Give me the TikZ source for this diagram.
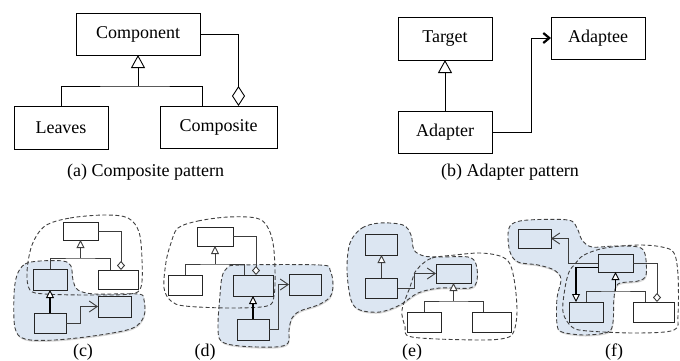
\documentclass[tikz,border=0pt]{standalone}
\usepackage{fontspec}
\setmainfont{Liberation Serif}
\usetikzlibrary{arrows.meta,calc,shadows,backgrounds}
\definecolor{blobblue}{RGB}{220,230,242}
\definecolor{linegray}{RGB}{60,60,60}

\begin{document}
\begin{tikzpicture}[x=1pt,y=-1pt,
  every node/.style={font=\fontsize{18}{21}\selectfont, inner sep=0pt, outer sep=0pt},
  % large UML classes
  classbox/.style 2 args={draw=black, line width=0.9pt, fill=white,
    minimum width=#1pt, minimum height=#2pt},
  % small classes in the overlap sketches
  wbox/.style 2 args={draw=black!85, line width=1pt, fill=white,
    minimum width=#1pt, minimum height=#2pt},
  bbox/.style 2 args={wbox={#1}{#2}, fill=blobblue},
  link/.style={draw=black, line width=0.9pt},
  slink/.style={draw=linegray, line width=0.9pt},
  heavylink/.style={draw=black, line width=1.8pt},
  inhbig/.style={-{Triangle[fill=white, length=13pt, width=14pt, line width=0.9pt]}},
  aggbig/.style={-{Diamond[fill=white, length=20pt, width=13pt, line width=0.9pt]}},
  usebig/.style={-{Straight Barb[length=6pt, width=10pt, line width=2.2pt]}},
  inhs/.style={-{Triangle[fill=white, length=8pt, width=8pt, line width=0.9pt]}},
  aggs/.style={-{Diamond[fill=white, length=9pt, width=8pt, line width=0.9pt]}},
  uses/.style={-{Straight Barb[length=8pt, width=11pt, line width=0.9pt]}},
  blueblob/.style={fill=blobblue, draw=black!75, line width=0.9pt,
    dash pattern=on 4pt off 2.5pt,
    drop shadow={shadow xshift=0.5pt, shadow yshift=-1.5pt, opacity=0.22, fill=black!70}},
  whiteblob/.style={draw=black!75, line width=0.9pt, dash pattern=on 4pt off 2.5pt},
  caption/.style={anchor=base}
]
\useasboundingbox (0,0) rectangle (680,360);

% ---------- (a) Composite pattern ----------
\node[classbox={124}{42}] (comp) at (138,34) {Component};
\node[classbox={94}{43}] (leaves) at (61,127.5) {Leaves};
\node[classbox={117}{42}] (composite) at (218.5,127) {Composite};
\coordinate (abus) at (138,86);
\coordinate (acomp) at (202,106);
\coordinate (aagg) at (238.5,106);
\draw[link] (leaves.north) |- (abus) -| (acomp);
\draw[link,inhbig] (abus) -- (comp.south);
\draw[link,aggbig] (comp.east) -| (aagg);
\node[caption] (capa) at (145.5,176) {(a) Composite pattern};

% ---------- (b) Adapter pattern ----------
\node[classbox={94}{43}] (target) at (445,38.5) {Target};
\node[classbox={94}{42}] (adaptee) at (598,38) {Adaptee};
\node[classbox={94}{42}] (adapter) at (445,132) {Adapter};
\coordinate (bturn) at (531,38);
\draw[link,inhbig] (adapter.north) -- (target.south);
\draw[link,usebig] (adapter.east) -| (bturn) -- (adaptee.west);
\node[caption] (capb) at (510,176) {(b) Adapter pattern};

% ---------- (c) ----------
\node[wbox={35}{18}] (ct) at (80.5,231) {};
\node[bbox={34}{21}] (cl) at (50,279.5) {};
\node[wbox={40}{19}] (cr) at (118,279.5) {};
\node[bbox={32}{20}] (cbl) at (50,323) {};
\node[bbox={33}{21}] (cbr) at (114.5,306.5) {};
\coordinate (cbus) at (80.5,258);
\coordinate (crj) at (110,270);
\coordinate (cagg) at (121,270);
\coordinate (cturn) at (80,306.5);
\draw[slink] (cl.north) |- (cbus) -| (crj);
\draw[slink,inhs] (cbus) -- (ct.south);
\draw[slink,aggs] (ct.east) -| (cagg);
\draw[heavylink,inhs] (cbl.north) -- (cl.south);
\draw[slink,uses] (cbl.east) -| (cturn) -- (cbr.west);
\node[caption] (capc) at (83,356) {(c)};

% ---------- (d) ----------
\node[wbox={36}{19}] (dt) at (215,236.5) {};
\node[wbox={34}{20}] (dl) at (185,285) {};
\node[bbox={40}{21}] (dm) at (253,285.5) {};
\node[bbox={32}{21}] (dr) at (305,284.5) {};
\node[bbox={32}{21}] (db) at (253,329.5) {};
\coordinate (dbus) at (215,264);
\coordinate (dmj) at (244,275);
\coordinate (dagg) at (256,275);
\coordinate (dturn) at (278,284.5);
\draw[slink] (dl.north) |- (dbus) -| (dmj);
\draw[slink,inhs] (dbus) -- (dt.south);
\draw[slink,aggs] (dt.east) -| (dagg);
\draw[heavylink,inhs] (db.north) -- (dm.south);
\draw[slink,uses] (db.east) -| (dturn) -- (dr.west);
\node[caption] (capd) at (205,356) {(d)};

% ---------- (e) ----------
\node[bbox={32}{21}] (etl) at (381.5,244.5) {};
\node[bbox={32}{20}] (ebl) at (381.5,288) {};
\node[bbox={35}{19}] (em) at (453.5,273.5) {};
\node[wbox={34}{20}] (ebm) at (424,322) {};
\node[wbox={39}{20}] (ebr) at (491.5,322) {};
\coordinate (ebus) at (453.5,301);
\coordinate (ebrj) at (483,312);
\coordinate (eturn) at (414,273.5);
\draw[slink,inhs] (ebl.north) -- (etl.south);
\draw[slink,uses] (ebl.east) -| (eturn) -- (em.west);
\draw[slink] (ebm.north) |- (ebus) -| (ebrj);
\draw[slink,inhs] (ebus) -- (em.south);
\node[caption] (cape) at (412,356) {(e)};

% ---------- (f) ----------
\node[bbox={33}{19}] (ftl) at (534.5,238.5) {};
\node[bbox={35}{18}] (fm) at (615.5,263) {};
\node[bbox={34}{20}] (fbl) at (586,312) {};
\node[wbox={41}{20}] (fbr) at (653.5,312) {};
\coordinate (fturn) at (568,238.5);
\coordinate (fw2) at (598,267.5);
\coordinate (fdown) at (576,302);
\coordinate (fbus) at (615.5,291);
\coordinate (fbrj) at (645,302);
\coordinate (fagg) at (657,302);
\draw[slink,uses] (fm.west) -| (fturn) -- (ftl.east);
\draw[heavylink,inhs] (fw2) -| (fdown);
\draw[slink] (fbl.north) |- (fbus) -| (fbrj);
\draw[heavylink,inhs] (fbus) -- (fm.south);
\draw[slink,aggs] (fm.east) -| (fagg);
\node[caption] (capf) at (614,356) {(f)};

% ---------- dashed groupings ----------
\begin{scope}[on background layer]
  % (c)
  \path[blueblob] plot[smooth cycle, tension=0.55] coordinates {
    (17,275) (25,264) (40,261) (63,261) (71,266) (73,280) (78,290) (95,294)
    (138,294) (144,300) (144,316) (133,328) (100,335) (55,340) (25,339)
    (15,328) (14,295)};
  \path[whiteblob] plot[smooth cycle, tension=0.55] coordinates {
    (45,226) (70,218) (105,215) (128,218) (139,232) (142,260) (141,287)
    (130,294) (90,295) (45,294) (30,290) (27,272) (32,245)};
  % (d)
  \path[blueblob] plot[smooth cycle, tension=0.55] coordinates {
    (227,268) (240,265) (320,265) (330,270) (333,285) (330,297) (318,305)
    (300,311) (292,318) (289,330) (288,343) (275,347) (240,346) (221,341)
    (218,325) (220,295) (222,277)};
  \path[whiteblob] plot[smooth cycle, tension=0.55] coordinates {
    (178,228) (198,221) (228,217) (256,218) (267,226) (273,243) (275,270)
    (274,296) (267,306) (230,308) (185,306) (171,301) (164,288) (166,262)
    (171,243)};
  % (e)
  \path[blueblob] plot[smooth cycle, tension=0.55] coordinates {
    (350,243) (362,228) (380,223) (403,225) (411,235) (414,250) (424,256)
    (440,257) (468,257) (476,264) (477,280) (470,288) (440,288) (418,293)
    (400,305) (380,312) (360,310) (351,300) (347,270)};
  \path[whiteblob] plot[smooth cycle, tension=0.55] coordinates {
    (420,266) (432,258) (455,255) (480,253) (500,256) (510,264) (515,285)
    (517,312) (514,331) (506,338) (478,340) (412,337) (405,326) (402,310)
    (410,287) (415,272)};
  % (f)
  \path[blueblob] plot[smooth cycle, tension=0.55] coordinates {
    (508,234) (512,224) (528,220) (568,220) (577,228) (582,240) (592,247)
    (615,246) (638,247) (645,254) (646,275) (638,281) (618,284) (614,298)
    (613,322) (608,332) (585,335) (562,332) (557,324) (557,298) (561,279)
    (554,270) (538,265) (518,262) (510,252)};
  \path[whiteblob] plot[smooth cycle, tension=0.55] coordinates {
    (575,264) (584,255) (605,248) (638,245) (662,247) (674,253) (678,275)
    (678,315) (674,330) (638,333) (588,331) (572,327) (563,312) (565,288)
    (569,272)};
\end{scope}
\end{tikzpicture}
\end{document}
